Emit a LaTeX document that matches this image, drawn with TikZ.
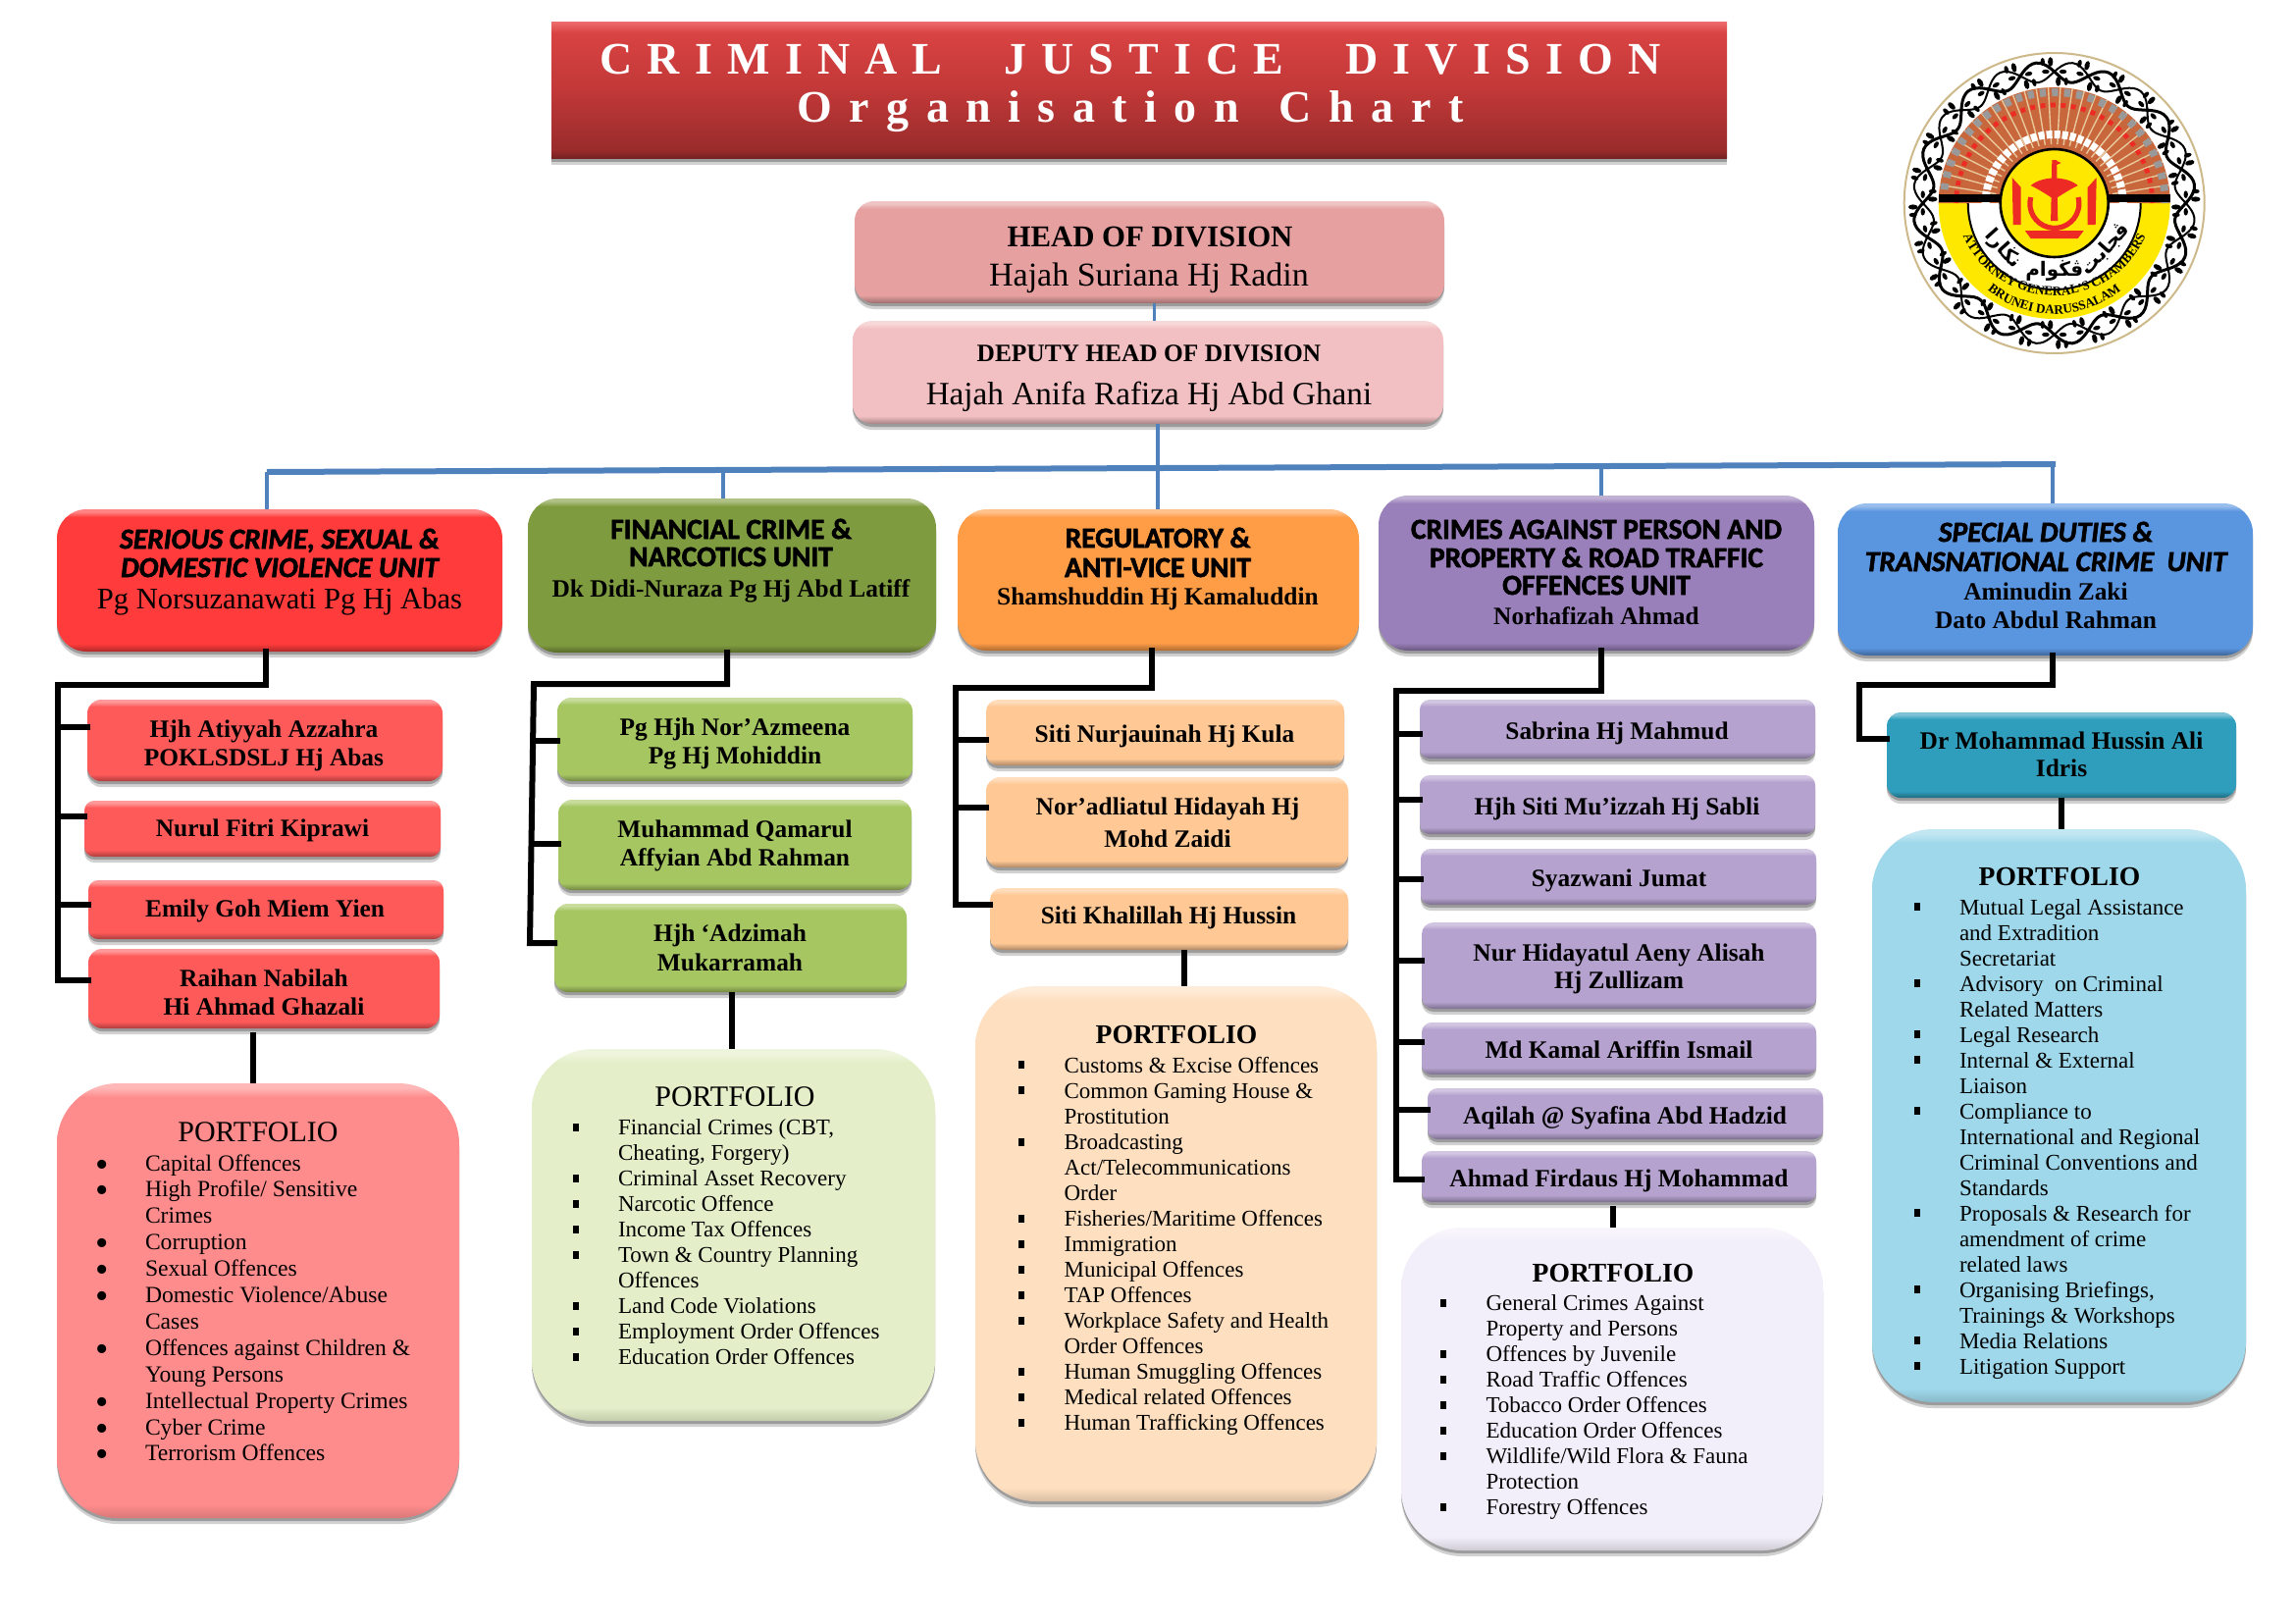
\documentclass[tikz,border=0pt]{standalone}
\usepackage{fontspec}
\usetikzlibrary{shadows,decorations.text}
\setmainfont{Liberation Serif}
\newfontfamily\hd[BoldFeatures={FakeBold=2},BoldItalicFeatures={FakeBold=2}]{Carlito}
\newfontfamily\arabicfont[Script=Arabic]{DejaVu Sans}
\newfontfamily\ttlA[LetterSpace=33]{Liberation Serif}
\newfontfamily\ttlB[LetterSpace=38]{Liberation Serif}
\TeXXeTstate=1
\definecolor{cRedU}{HTML}{FF3B3B}\definecolor{cRedS}{HTML}{FF5A5A}\definecolor{cRedP}{HTML}{FF8C8C}
\definecolor{cGrnU}{HTML}{7F9B3F}\definecolor{cGrnS}{HTML}{A6C662}\definecolor{cGrnP}{HTML}{E4EFC9}
\definecolor{cOrgU}{HTML}{FF9D47}\definecolor{cOrgS}{HTML}{FFC895}\definecolor{cOrgP}{HTML}{FEDFC0}
\definecolor{cPurU}{HTML}{9A80BA}\definecolor{cPurS}{HTML}{B5A2CF}\definecolor{cPurP}{HTML}{F3EFFA}
\definecolor{cBluU}{HTML}{5A95E0}\definecolor{cBluS}{HTML}{2F9EBC}\definecolor{cBluP}{HTML}{9FD8EA}
\definecolor{cHead}{HTML}{E6A0A0}\definecolor{cDep}{HTML}{F2C0C2}
\definecolor{cBus}{HTML}{4F81BD}
\definecolor{cTan}{HTML}{CDB98A}\definecolor{cBrown}{HTML}{C8663C}\definecolor{cRay}{HTML}{E8C79A}
\definecolor{cYel}{HTML}{FFE800}\definecolor{cCrest}{HTML}{EE2A24}
\newlength\lenA\newlength\lenB
\def\dm{68}
\newcommand\BBox[9]{%
 \pgfmathsetmacro\cx{(#2+#4)/2}\pgfmathsetmacro\cy{(#3+#5)/2}%
 \pgfmathsetmacro\bw{(#4-#2)*0.5}\pgfmathsetmacro\bh{(#5-#3)*0.5}\pgfmathsetmacro\rr{#6*0.5}%
 \pgfmathsetmacro\pa{25+25*#7/\bh}\pgfmathsetmacro\pb{75-25*#7/\bh}\pgfmathsetmacro\pd{75-8*#7/\bh}%
 \colorlet{cDark}{#8!\dm!black}\colorlet{cBase}{#8}\colorlet{cLight}{#8!62!white}%
 \edef\tmp{\noexpand\pgfdeclareverticalshading{sh#1}{100bp}{color(0bp)=(cDark); color(25bp)=(cDark); color(\pa bp)=(cBase); color(\pb bp)=(cBase); color(\pd bp)=(cLight); color(75bp)=(cLight); color(100bp)=(cLight)}}\tmp
 \node[boxnode,shading=sh#1,rounded corners=\rr pt,minimum width=\bw pt,minimum height=\bh pt] (#1) at (\cx,\cy) {#9};%
}
\newcommand\Ln[3]{\pgfmathsetlength\lenA{(#1-\cx)*1pt}\pgfmathsetlength\lenB{(\cy-#2)*0.5pt}\makebox[0pt][c]{\hspace*{\lenA}\raisebox{\lenB}[0pt][0pt]{#3}}\ignorespaces}
\newcommand\Lf[3]{\pgfmathsetlength\lenA{(#1-\cx)*0.5pt}\pgfmathsetlength\lenB{(\cy-#2)*0.5pt}\makebox[0pt][l]{\hspace*{\lenA}\raisebox{\lenB}[0pt][0pt]{#3}}\ignorespaces}
\newcommand\It[1]{\Lf{\bx}{\cury}{\bul}\Lf{\tx}{\cury}{#1}\pgfmathsetmacro\cury{\cury+\pit}\ignorespaces}
\newcommand\Ct[1]{\Lf{\tx}{\cury}{#1}\pgfmathsetmacro\cury{\cury+\pit}\ignorespaces}
\newcommand\sqb{\rule[1.8pt]{2.9pt}{4pt}}
\newcommand\rdb{\raisebox{-3pt}{\fontsize{19}{19}\selectfont\textbullet}}
\newcommand\hdf{\fontsize{14.7}{15}\hd\bfseries}
\newcommand\hdi{\fontsize{14.7}{15}\hd\bfseries\itshape}
\newcommand\snf{\fontsize{12.7}{15}\bfseries\selectfont}
\newcommand\pff{\fontsize{15}{17}\selectfont}
\newcommand\pfb{\fontsize{13.8}{17}\bfseries\selectfont}
\tikzset{
 boxnode/.style={shade,shading angle=0,inner sep=0pt,outer sep=0pt,font=\fontsize{11.5}{13}\selectfont,
  drop shadow={shadow xshift=0pt,shadow yshift=-3pt,opacity=.18,fill=black},
  drop shadow={shadow xshift=0pt,shadow yshift=-1.5pt,opacity=.25,fill=black}},
 busline/.style={draw=cBus,line width=3pt},
 dropline/.style={draw=cBus,line width=1.9pt},
 comb/.style={draw=black,line width=3pt,line cap=rect},
 stem/.style={draw=black,line width=3pt}
}
\begin{document}
\begin{tikzpicture}[x=0.5pt,y=-0.5pt]
\useasboundingbox[fill=white] (0,0) rectangle (2339,1654);
% ---------- title
\pgfdeclareverticalshading{shtitle}{100bp}{rgb(0bp)=(0.45,0.13,0.13); rgb(25bp)=(0.45,0.13,0.13); rgb(28bp)=(0.6,0.17,0.17); rgb(50bp)=(0.76,0.22,0.22); rgb(71bp)=(0.85,0.26,0.26); rgb(75bp)=(0.93,0.42,0.42); rgb(100bp)=(0.93,0.42,0.42)}
\def\cx{1161}\def\cy{92}
\node[boxnode,shading=shtitle,minimum width=599pt,minimum height=69.5pt] (title) at (\cx,\cy) {\Ln{1152}{75}{\fontsize{23}{26}\ttlA\bfseries\color{white}CRIMINAL\hspace{18pt} JUSTICE\hspace{18pt} DIVISION}\Ln{1152}{124}{\fontsize{23}{26}\ttlB\bfseries\color{white}Organisation\hspace{6pt} Chart}};
% ---------- head
\BBox{hd}{871}{205}{1472}{309}{20}{8}{cHead}{\Ln{1172}{251}{\fontsize{15.4}{18}\bfseries\selectfont HEAD OF DIVISION}\Ln{1171}{291}{\fontsize{17}{18}\selectfont Hajah Suriana Hj Radin}}
\BBox{dep}{869}{327}{1471}{432}{20}{8}{cDep}{\Ln{1171}{368}{\fontsize{12.7}{18}\bfseries\selectfont DEPUTY HEAD OF DIVISION}\Ln{1171}{412}{\fontsize{16.6}{18}\selectfont Hajah Anifa Rafiza Hj Abd Ghani}}
% ---------- units
\BBox{u1}{58}{519}{512}{664}{30}{8}{cRedU}{\Ln{285}{559}{\hdi SERIOUS CRIME, SEXUAL \&}\Ln{285}{588}{\hdi DOMESTIC VIOLENCE UNIT}\Ln{285}{620}{\fontsize{15.3}{17}\selectfont Pg Norsuzanawati Pg Hj Abas}}
\BBox{u2}{538}{508}{954}{665}{30}{8}{cGrnU}{\Ln{745}{549}{\hdf FINANCIAL CRIME \&}\Ln{745}{577}{\hdf NARCOTICS UNIT}\Ln{745}{608}{\fontsize{12.7}{15}\bfseries\selectfont Dk Didi-Nuraza Pg Hj Abd Latiff}}
\BBox{u3}{976}{519}{1385}{663}{30}{8}{cOrgU}{\Ln{1180}{558}{\hdf REGULATORY \&}\Ln{1180}{588}{\hdf ANTI-VICE UNIT}\Ln{1180}{616}{\snf Shamshuddin Hj Kamaluddin}}
\BBox{u4}{1405}{505}{1849}{663}{30}{8}{cPurU}{\Ln{1627}{549}{\hdf CRIMES AGAINST PERSON AND}\Ln{1627}{578}{\hdf PROPERTY \& ROAD TRAFFIC}\Ln{1627}{606}{\hdf OFFENCES UNIT}\Ln{1627}{636.5}{\snf Norhafizah Ahmad}}
\BBox{u5}{1873}{513}{2296}{668}{30}{8}{cBluU}{\Ln{2085}{552}{\hdi SPECIAL DUTIES \&}\Ln{2085}{582}{\hdi TRANSNATIONAL CRIME\ \ UNIT}\Ln{2085}{611}{\snf Aminudin Zaki}\Ln{2085}{640.5}{\snf Dato Abdul Rahman}}
% ---------- staff red
\BBox{r1}{89}{713}{451}{796}{14}{7}{cRedS}{\Ln{269}{751}{\snf Hjh Atiyyah Azzahra}\Ln{269}{780}{\snf POKLSDSLJ Hj Abas}}
\BBox{r2}{86}{816}{449}{873}{10}{7}{cRedS}{\Ln{267.5}{852}{\snf Nurul Fitri Kiprawi}}
\BBox{r3}{90}{897}{452}{957}{10}{7}{cRedS}{\Ln{270}{934}{\snf Emily Goh Miem Yien}}
\BBox{r4}{90}{967}{448}{1048}{14}{7}{cRedS}{\Ln{269}{1005}{\snf Raihan Nabilah}\Ln{269}{1034}{\snf Hi Ahmad Ghazali}}
% ---------- staff green
\BBox{g1}{568}{711}{930}{796}{14}{7}{cGrnS}{\Ln{749}{749}{\snf Pg Hjh Nor’Azmeena}\Ln{749}{778}{\snf Pg Hj Mohiddin}}
\BBox{g2}{569}{815}{929}{907}{14}{7}{cGrnS}{\Ln{749}{853}{\snf Muhammad Qamarul}\Ln{749}{882}{\snf Affyian Abd Rahman}}
\BBox{g3}{565}{921}{924}{1011}{14}{7}{cGrnS}{\Ln{744}{959}{\snf Hjh ‘Adzimah}\Ln{744}{989}{\snf Mukarramah}}
% ---------- staff orange
\BBox{o1}{1005}{713}{1370}{780}{12}{7}{cOrgS}{\Ln{1187}{756}{\snf Siti Nurjauinah Hj Kula}}
\BBox{o2}{1005}{792}{1374}{884}{14}{7}{cOrgS}{\Ln{1190}{830}{\snf Nor’adliatul Hidayah Hj}\Ln{1190}{863}{\snf Mohd Zaidi}}
\BBox{o3}{1009}{905}{1374}{968}{12}{7}{cOrgS}{\Ln{1191}{941}{\snf Siti Khalillah Hj Hussin}}
% ---------- staff purple
\BBox{p1}{1447}{713}{1850}{773}{10}{7}{cPurS}{\Ln{1648}{753}{\snf Sabrina Hj Mahmud}}
\BBox{p2}{1447}{790}{1850}{850}{10}{7}{cPurS}{\Ln{1648}{830}{\snf Hjh Siti Mu’izzah Hj Sabli}}
\BBox{p3}{1448}{865}{1851}{922}{10}{7}{cPurS}{\Ln{1650}{903}{\snf Syazwani Jumat}}
\BBox{p4}{1449}{940}{1851}{1028}{12}{7}{cPurS}{\Ln{1650}{979}{\snf Nur Hidayatul Aeny Alisah}\Ln{1650}{1007}{\snf Hj Zullizam}}
\BBox{p5}{1449}{1042}{1851}{1095}{10}{7}{cPurS}{\Ln{1650}{1078}{\snf Md Kamal Ariffin Ismail}}
\BBox{p6}{1455}{1109}{1858}{1161}{10}{7}{cPurS}{\Ln{1656}{1145}{\snf Aqilah @ Syafina Abd Hadzid}}
\BBox{p7}{1449}{1173}{1851}{1225}{10}{7}{cPurS}{\Ln{1650}{1209}{\snf Ahmad Firdaus Hj Mohammad}}
% ---------- staff blue
\BBox{b1}{1923}{726}{2279}{813}{14}{7}{cBluS}{\Ln{2101}{763}{\snf Dr Mohammad Hussin Ali}\Ln{2101}{791}{\snf Idris}}
% ---------- portfolios
\def\dm{85}
\def\pit{26.9}\def\bx{97}\def\tx{148}\def\cury{1193}\def\bul{\rdb}
\BBox{pf1}{58}{1104}{468}{1547}{62}{14}{cRedP}{\Ln{263}{1163}{\pff PORTFOLIO}\fontsize{11.8}{13}\selectfont\ignorespaces\It{Capital Offences}\It{High Profile/ Sensitive}\Ct{Crimes}\It{Corruption}\It{Sexual Offences}\It{Domestic Violence/Abuse}\Ct{Cases}\It{Offences against Children \&}\Ct{Young Persons}\It{Intellectual Property Crimes}\It{Cyber Crime}\It{Terrorism Offences}}
\def\pit{26}\def\bx{584}\def\tx{630}\def\cury{1156.5}\def\bul{\sqb}
\BBox{pf2}{542}{1069}{953}{1448}{62}{14}{cGrnP}{\Ln{749}{1127}{\pff PORTFOLIO}\It{Financial Crimes (CBT,}\Ct{Cheating, Forgery)}\It{Criminal Asset Recovery}\It{Narcotic Offence}\It{Income Tax Offences}\It{Town \& Country Planning}\Ct{Offences}\It{Land Code Violations}\It{Employment Order Offences}\It{Education Order Offences}}
\def\pit{26.07}\def\bx{1038}\def\tx{1084.6}\def\cury{1093}
\BBox{pf3}{994}{1005}{1403}{1530}{62}{14}{cOrgP}{\Ln{1199}{1063}{\pfb PORTFOLIO}\It{Customs \& Excise Offences}\It{Common Gaming House \&}\Ct{Prostitution}\It{Broadcasting}\Ct{Act/Telecommunications}\Ct{Order}\It{Fisheries/Maritime Offences}\It{Immigration}\It{Municipal Offences}\It{TAP Offences}\It{Workplace Safety and Health}\Ct{Order Offences}\It{Human Smuggling Offences}\It{Medical related Offences}\It{Human Trafficking Offences}}
\def\pit{25.95}\def\bx{1468}\def\tx{1514.5}\def\cury{1335.5}
\BBox{pf4}{1428}{1251}{1858}{1580}{62}{14}{cPurP}{\Ln{1644}{1306}{\pfb PORTFOLIO}\It{General Crimes Against}\Ct{Property and Persons}\It{Offences by Juvenile}\It{Road Traffic Offences}\It{Tobacco Order Offences}\It{Education Order Offences}\It{Wildlife/Wild Flora \& Fauna}\Ct{Protection}\It{Forestry Offences}}
\def\pit{26}\def\bx{1951}\def\tx{1997}\def\cury{932}
\BBox{pf5}{1908}{845}{2289}{1429}{62}{14}{cBluP}{\Ln{2099}{902}{\pfb PORTFOLIO}\It{Mutual Legal Assistance}\Ct{and Extradition}\Ct{Secretariat}\It{Advisory\ \ on Criminal}\Ct{Related Matters}\It{Legal Research}\It{Internal \& External}\Ct{Liaison}\It{Compliance to}\Ct{International and Regional}\Ct{Criminal Conventions and}\Ct{Standards}\It{Proposals \& Research for}\Ct{amendment of crime}\Ct{related laws}\It{Organising Briefings,}\Ct{Trainings \& Workshops}\It{Media Relations}\It{Litigation Support}}
% ---------- blue connectors
\coordinate (hdc) at (1176.5,309);
\coordinate (depc) at (1180,432);
\coordinate (busL) at (272,481);
\coordinate (busR) at (2095,473);
\coordinate (bus2) at (737,478);
\coordinate (bus4) at (1632,475);
\coordinate (bus5) at (2092,473);
\draw[dropline] (hdc) -- (hdc |- dep.north);
\draw[dropline] (depc) -- (depc |- u3.north);
\draw[busline] (busL) -- (busR);
\draw[dropline] (busL) -- (busL |- u1.north);
\draw[dropline] (bus2) -- (bus2 |- u2.north);
\draw[dropline] (bus4) -- (bus4 |- u4.north);
\draw[dropline] (bus5) -- (bus5 |- u5.north);
% ---------- black combs
\coordinate (c1) at (271,698);\coordinate (s1) at (58.5,698);
\coordinate (r1b) at (58.5,741);\coordinate (r2b) at (58.5,832);\coordinate (r3b) at (58.5,922);\coordinate (r4b) at (58.5,999);
\draw[comb] (c1 |- u1.south) -- (c1) -- (s1) -- (r4b) -- (r4b -| r4.west);
\draw[comb] (r1b) -- (r1b -| r1.west);\draw[comb] (r2b) -- (r2b -| r2.west);\draw[comb] (r3b) -- (r3b -| r3.west);
\coordinate (c2) at (741,697);\coordinate (s2) at (544,697);
\coordinate (g1b) at (544,755);\coordinate (g2b) at (544,860);\coordinate (g3b) at (540,961);
\draw[comb] (c2 |- u2.south) -- (c2) -- (s2) -- (g3b) -- (g3b -| g3.west);
\draw[comb] (g1b) -- (g1b -| g1.west);\draw[comb] (g2b) -- (g2b -| g2.west);
\coordinate (c3) at (1173.5,701);\coordinate (s3) at (974,701);
\coordinate (o1b) at (974,754);\coordinate (o2b) at (974,823);\coordinate (o3b) at (974,922);
\draw[comb] (c3 |- u3.south) -- (c3) -- (s3) -- (o3b) -- (o3b -| o3.west);
\draw[comb] (o1b) -- (o1b -| o1.west);\draw[comb] (o2b) -- (o2b -| o2.west);
\coordinate (c4) at (1632,703.5);\coordinate (s4) at (1423,703.5);
\coordinate (p1b) at (1423,747.5);\coordinate (p2b) at (1423,814.5);\coordinate (p3b) at (1423,896);\coordinate (p4b) at (1423,979);\coordinate (p5b) at (1423,1062);\coordinate (p6b) at (1423,1131);\coordinate (p7b) at (1423,1202);
\draw[comb] (c4 |- u4.south) -- (c4) -- (s4) -- (p7b) -- (p7b -| p7.west);
\foreach \n in {1,...,6}{\draw[comb] (p\n b) -- (p\n b -| p\n.west);}
\coordinate (c5) at (2092,698);\coordinate (s5) at (1895,698);\coordinate (b1b) at (1895,753);
\draw[comb] (c5 |- u5.south) -- (c5) -- (s5) -- (b1b) -- (b1b -| b1.west);
% ---------- stems to portfolios
\coordinate (t1) at (258,1052);\coordinate (t2) at (746,1011);\coordinate (t3) at (1207,968);\coordinate (t4) at (1644,1229);\coordinate (t5) at (2101,813);
\draw[stem] (t1) -- (t1 |- pf1.north);
\draw[stem] (t2) -- (t2 |- pf2.north);
\draw[stem] (t3) -- (t3 |- pf3.north);
\draw[stem] (t4) -- (t4 |- pf4.north);
\draw[stem] (t5) -- (t5 |- pf5.north);
% ---------- seal
\begin{scope}[shift={(2093.7,207)},x=0.5pt,y=0.5pt]
\fill[white] (0,0) circle (76pt);
\draw[cTan,line width=1pt] (0,0) circle (76.5pt);
\draw[black,line width=1.5pt] plot[domain=0:360,samples=241] ({(134+10*sin(12*\x))*cos(\x)},{(134+10*sin(12*\x))*sin(\x)});
\draw[black,line width=1pt] plot[domain=0:360,samples=241] ({(134-10*sin(12*\x))*cos(\x)},{(134-10*sin(12*\x))*sin(\x)});
\foreach \a in {0,15,...,345}{
 \begin{scope}[rotate=\a]
  \fill[black] (72pt,2pt) ellipse (2.4pt and 1.3pt);
  \fill[black] (72pt,6pt) ellipse (2pt and 1.1pt);
  \fill[black] (62pt,-2pt) ellipse (2.4pt and 1.3pt);
  \fill[black] (62pt,-6pt) ellipse (2pt and 1.1pt);
  \fill[black] (67pt,4.4pt) ellipse (1.1pt and 1.9pt);
  \fill[black] (67pt,-4.4pt) ellipse (1.1pt and 1.9pt);
  \fill[black] (67pt,0) circle (1pt);
 \end{scope}}
\fill[cYel] (-59pt,0) arc[start angle=180,end angle=360,radius=59pt] -- cycle;
\fill[cBrown] (59pt,0) arc[start angle=0,end angle=180,radius=59pt] -- cycle;
\foreach \a in {3,9,...,177}{\draw[cRay,line width=.7pt] (\a:30pt) -- (\a:59pt);}
\draw[gray!80,line width=4pt,dash pattern=on 3.2pt off 3pt] (56.5pt,0) arc[start angle=0,end angle=180,radius=56.5pt];
\draw[cCrest,line width=2.4pt,dash pattern=on 2.4pt off 2.8pt] (50pt,0) arc[start angle=0,end angle=180,radius=50pt];
\draw[white,line width=4pt,dash pattern=on 3pt off 1pt] (35pt,0) arc[start angle=0,end angle=180,radius=35pt];
\fill[white] (-44pt,0) arc[start angle=180,end angle=360,radius=44pt] -- cycle;
\draw[black,line width=1pt] (-44pt,0) arc[start angle=180,end angle=360,radius=44pt];
\fill[black] (-59pt,.5pt) rectangle (59pt,4.5pt);
\fill[cYel] (0,0) circle (27.5pt);
\draw[black,line width=1.3pt] (0,0) circle (27.5pt);
% crest
\fill[cCrest] (-1.2pt,22pt) -- (1.2pt,22pt) -- (1.8pt,-9pt) -- (-1.8pt,-9pt) -- cycle;
\fill[cCrest] (0,22pt) -- (3.5pt,20.5pt) -- (0,19pt) -- cycle;
\fill[cCrest] (-12pt,9pt) .. controls (-6pt,14pt) and (6pt,14pt) .. (12pt,9pt) .. controls (6pt,6pt) and (2pt,3pt) .. (0,2pt) .. controls (-2pt,3pt) and (-6pt,6pt) .. cycle;
\draw[cCrest,line width=2.6pt] (-12pt,3pt) arc[start angle=165,end angle=375,radius=12.5pt];
\fill[cCrest] (-15pt,-14pt) -- (15pt,-14pt) -- (12pt,-18pt) -- (-12pt,-18pt) -- cycle;
\fill[cCrest] (-21.5pt,13pt) -- (-17pt,8pt) -- (-17pt,-11pt) -- (-21pt,-11pt) -- cycle;
\fill[cCrest] (21.5pt,13pt) -- (17pt,8pt) -- (17pt,-11pt) -- (21pt,-11pt) -- cycle;
% legend
\node[font=\arabicfont\bfseries\fontsize{10}{12}\selectfont,inner sep=0pt] (sealm) at (-90:34.5pt) {\beginR ڤڬوام\endR};
\node[font=\arabicfont\bfseries\fontsize{10}{12}\selectfont,inner sep=0pt,rotate=-48] (seall) at (-138:35pt) {\beginR نڬارا\endR};
\node[font=\arabicfont\bfseries\fontsize{10}{12}\selectfont,inner sep=0pt,rotate=48] (sealr) at (-42:35pt) {\beginR ڤجابت\endR};
\path[decorate,decoration={text along path,text align=center,text={|\fontsize{6.6}{8}\bfseries\selectfont|ATTORNEY GENERAL'S CHAMBERS}}] (0,3.85pt) ++(199:51pt) arc[start angle=199,end angle=341,radius=51pt];
\path[decorate,decoration={text along path,text align=center,text={|\fontsize{6.6}{8}\bfseries\selectfont|BRUNEI DARUSSALAM}}] (0,-3pt) ++(229:53.5pt) arc[start angle=229,end angle=311,radius=53.5pt];
\end{scope}
\end{tikzpicture}
\end{document}
